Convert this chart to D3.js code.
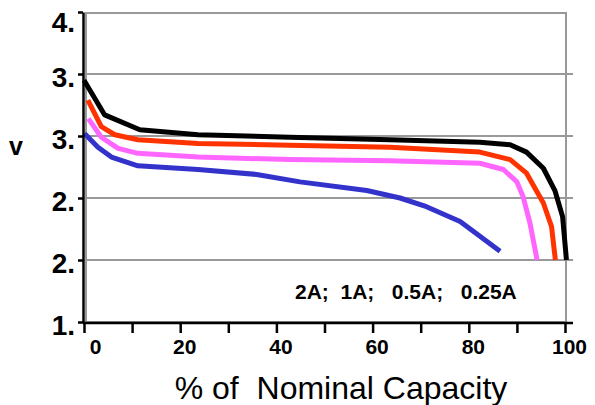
<!DOCTYPE html>
<html>
<head>
<meta charset="utf-8">
<script src="https://cdn.jsdelivr.net/npm/d3@7"></script>
<style>
  body { margin: 0; background: #fff; }
  svg { display: block; font-family: Arial, "Liberation Sans", sans-serif; }
</style>
</head>
<body>
<svg></svg>
<script>
// discharge curves, voltage vs % of nominal capacity
const CAPACITY_2A = [0, 4.3, 11.6, 23.7, 42.8, 63.6, 82.3, 88.6, 92.0, 95.5, 97.9, 99.5, 100.3];
const VOLTS_2A = [3.45, 3.17, 3.05, 3.01, 2.99, 2.97, 2.95, 2.93, 2.87, 2.74, 2.56, 2.35, 2.0];

const CAPACITY_1A = [0.8, 3.6, 6.4, 11.2, 23.7, 42.8, 63.6, 82.3, 88.6, 92.0, 95.5, 97.2, 98.0];
const VOLTS_1A = [3.29, 3.075, 3.01, 2.97, 2.94, 2.925, 2.91, 2.87, 2.81, 2.70, 2.46, 2.27, 2.0];

const CAPACITY_05A = [0.9, 3.6, 7.1, 11.2, 23.7, 42.8, 63.6, 82.3, 87.2, 90.0, 91.3, 92.7, 94.2];
const VOLTS_05A = [3.14, 2.99, 2.90, 2.86, 2.83, 2.81, 2.80, 2.78, 2.73, 2.63, 2.51, 2.30, 2.0];

const CAPACITY_025A = [0.1, 2.9, 5.7, 11.2, 23.7, 35.9, 44.9, 58.8, 65.7, 71.2, 78.2, 86.5];
const VOLTS_025A = [3.02, 2.91, 2.83, 2.76, 2.73, 2.69, 2.63, 2.56, 2.50, 2.43, 2.31, 2.07];

const SERIES = [
    { name: '2A', x: CAPACITY_2A, y: VOLTS_2A, color: '#000000' },
    { name: '1A', x: CAPACITY_1A, y: VOLTS_1A, color: '#ff3300' },
    { name: '0.5A', x: CAPACITY_05A, y: VOLTS_05A, color: '#ff66ff' },
    { name: '0.25A', x: CAPACITY_025A, y: VOLTS_025A, color: '#3333cc' },
];

const Y_TICKS = [4.0, 3.5, 3.0, 2.5, 2.0, 1.5];
const Y_TICK_LABELS = ['4.', '3.', '3.', '2.', '2.', '1.'];
const X_TICKS = [0, 10, 20, 30, 40, 50, 60, 70, 80, 90, 100];
const X_TICK_LABELS = [0, 20, 40, 60, 80, 100];

const WIDTH = 595, HEIGHT = 405;
const x = d3.scaleLinear().domain([0, 100]).range([84, 565]);
const y = d3.scaleLinear().domain([1.5, 4.0]).range([322, 12]);

const svg = d3.select('svg')
    .attr('width', WIDTH)
    .attr('height', HEIGHT);

// PLOT FRAME + GRIDLINES
svg.append('rect')
    .attr('x', 86).attr('y', 13)
    .attr('width', 480).attr('height', 309)
    .attr('fill', 'none')
    .attr('stroke', '#999')
    .attr('stroke-width', 2);

svg.selectAll('.grid')
    .data(Y_TICKS.slice(1, -1))
    .enter()
    .append('line')
    .classed('grid', true)
    .attr('x1', 86).attr('x2', 573)
    .attr('y1', d => y(d)).attr('y2', d => y(d))
    .attr('stroke', '#999')
    .attr('stroke-width', 2);

// LINES
const line = d3.line()
    .x(d => x(d[0]))
    .y(d => y(d[1]));

svg.selectAll('.curve')
    .data(SERIES)
    .enter()
    .append('path')
    .classed('curve', true)
    .attr('d', s => line(d3.zip(s.x, s.y)))
    .attr('fill', 'none')
    .attr('stroke', s => s.color)
    .attr('stroke-width', 5)
    .attr('stroke-linejoin', 'round');

// Y AXIS
const yAxis = svg.append('g')
    .attr('transform', 'translate(83,0)')
    .call(d3.axisLeft(y).tickValues(Y_TICKS).tickSize(5).tickSizeOuter(0)
        .tickFormat((d, i) => Y_TICK_LABELS[i]));
yAxis.select('.domain').attr('stroke', '#000').attr('stroke-width', 2.5);
yAxis.selectAll('line').attr('stroke-width', 2.5);
yAxis.selectAll('text')
    .attr('x', -8)
    .attr('dy', (d, i) => i === 0 ? '0.68em' : '0.45em')
    .attr('font-size', 28)
    .attr('font-weight', 'bold')
    .attr('fill', '#000');

// X AXIS
const xAxis = svg.append('g')
    .attr('transform', 'translate(0,323)')
    .call(d3.axisBottom(x).tickValues(X_TICKS).tickSize(10).tickSizeOuter(0)
        .tickFormat(d => X_TICK_LABELS.includes(d) ? d : ''));
xAxis.select('.domain').attr('d', 'M83,0H573').attr('stroke', '#000').attr('stroke-width', 2.5);
xAxis.selectAll('line').attr('stroke-width', 2.5);
xAxis.selectAll('text')
    .attr('y', 16)
    .attr('dx', d => d === 0 ? 11 : 4)
    .attr('font-size', 21)
    .attr('font-weight', 'bold')
    .attr('fill', '#000');

// TITLES + LEGEND TEXT
svg.append('text')
    .text('v')
    .attr('x', 16).attr('y', 155)
    .attr('text-anchor', 'middle')
    .attr('font-size', 25)
    .attr('font-weight', 'bold');

svg.append('text')
    .text('% of  Nominal Capacity')
    .attr('x', 341).attr('y', 399)
    .attr('text-anchor', 'middle')
    .attr('font-size', 32)
    .style('white-space', 'pre');

svg.append('text')
    .text(SERIES.map(s => s.name + ';').join('  ').replace(/;$/, '').replace('1A;  ', '1A;   ').replace('0.5A;  ', '0.5A;   '))
    .attr('x', 295).attr('y', 299)
    .attr('font-size', 21)
    .attr('font-weight', 'bold')
    .style('white-space', 'pre');
</script>
</body>
</html>
